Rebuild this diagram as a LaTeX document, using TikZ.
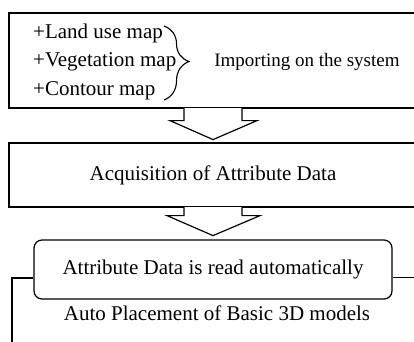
\documentclass[tikz,border=0pt]{standalone}
\usepackage{fontspec}
\setmainfont{Liberation Serif}
\usetikzlibrary{calc,decorations.pathreplacing}

\begin{document}
\begin{tikzpicture}[x=1pt,y=-1pt]
    \tikzstyle{every node}=[inner sep=0, font=\fontsize{21}{28.5}\selectfont]
    \tikzstyle{box}=[draw, line width=1.2pt, minimum width=408pt]
    \tikzstyle{blockarrow}=[draw, fill=white, line width=1.2pt, line join=miter]
    \useasboundingbox (0,0) rectangle (414,341);
    \clip (0,0) rectangle (414,341);
    % maps imported on the system
    \node[box, minimum height=95pt] (maps) at (213,60.5) {};
    \node[align=left, anchor=west] (list) at (33,61.5) {+Land use map\\+Vegetation map\\+Contour map};
    \coordinate (bt) at (164,26);
    \coordinate (bb) at (164,100);
    \draw[decorate, decoration={brace, amplitude=25pt, aspect=0.48}, line width=1.1pt] (bt) -- (bb);
    \node[font=\fontsize{19}{22}\selectfont] (import) at (307,62) {Importing on the system};
    % attribute data
    \node[box, minimum height=64pt] (attr) at (213,175) {Acquisition of Attribute Data};
    \node[draw, line width=1.2pt, rounded corners=8pt, minimum width=358pt, minimum height=59pt] (read) at (213,269.5) {Attribute Data is read automatically};
    \node (place) at (217,313) {Auto Placement of Basic 3D models};
    \coordinate (lend) at (12,345);
    \coordinate (rend) at (420,277.5);
    % block arrows
    \filldraw[blockarrow] ($(maps.south)+(-29,-0.6)$) -- ++(0,12.6) -- ++(-14,0) -- ++(43,19) -- ++(44,-19) -- ++(-15,0) -- ++(0,-12.6);
    \filldraw[blockarrow] ($(attr.south)+(-29,-0.6)$) -- ++(0,8.6) -- ++(-17,0) -- ++(46,20) -- ++(47,-20) -- ++(-18,0) -- ++(0,-8.6);
    \draw[line width=1.2pt] ($(read.west)+(0,8.5)$) -| (lend);
    \draw[line width=1.2pt] ($(read.east)+(0,8)$) -- (rend);
\end{tikzpicture}
\end{document}
